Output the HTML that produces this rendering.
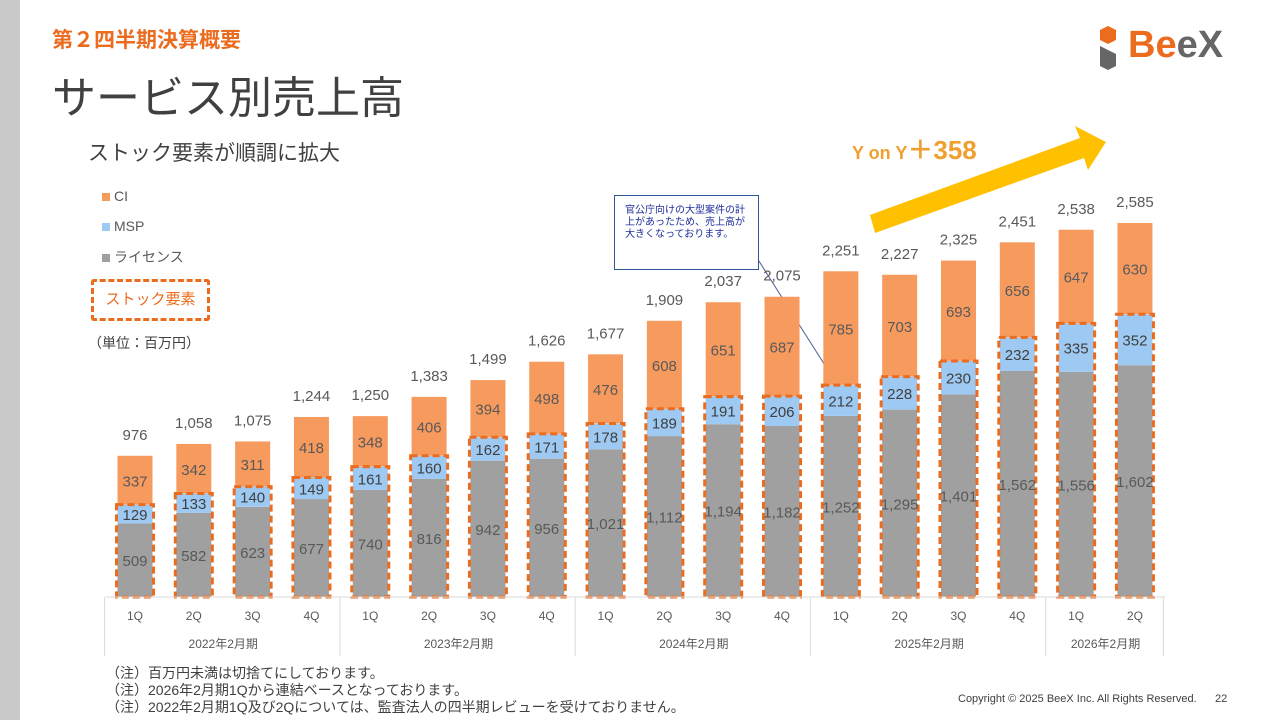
<!DOCTYPE html>
<html><head><meta charset="utf-8">
<style>
body{margin:0;width:1280px;height:720px;background:#fff;font-family:"Liberation Sans","Noto Sans CJK JP",sans-serif;position:relative;overflow:hidden}
.abs{position:absolute}
</style></head><body>
<div class="abs" style="left:0;top:0;width:20px;height:720px;background:#c9c9c9"></div>
<div class="abs" style="left:52px;top:24px;font-size:21px;font-weight:bold;color:#ec6c1f">第２四半期決算概要</div>
<div class="abs" style="left:52px;top:62px;font-size:44px;color:#404040">サービス別売上高</div>
<div class="abs" style="left:88px;top:137px;font-size:21px;color:#404040">ストック要素が順調に拡大</div>
<div class="abs" style="left:1098px;top:24px;width:140px;height:48px">
<svg width="24" height="48" viewBox="0 0 24 48" style="position:absolute;left:0;top:0"><polygon points="2,6 10,2 18,6 18,16 10,20 2,16" fill="#ec6c1f"/><polygon points="2,22 18,30 18,42 10,46 2,42" fill="#666"/></svg>
<span style="position:absolute;left:30px;top:0;font-size:38px;font-weight:bold;color:#ec6c1f">Be<span style="color:#666">eX</span></span></div>
<svg class="abs" style="left:0;top:0" width="1280" height="720" id="chart"></svg>
<div class="abs" style="left:102px;top:188px;font-size:14px;color:#595959"><span style="display:inline-block;width:8px;height:8px;background:#f79a5e;margin-right:4px"></span>CI</div>
<div class="abs" style="left:102px;top:218px;font-size:14px;color:#595959"><span style="display:inline-block;width:8px;height:8px;background:#9dc9f2;margin-right:4px"></span>MSP</div>
<div class="abs" style="left:102px;top:247px;font-size:14px;color:#595959"><span style="display:inline-block;width:8px;height:8px;background:#a0a0a0;margin-right:4px"></span>ライセンス</div>
<div class="abs" style="left:91px;top:279px;border:3px dashed #ec6c1f;border-radius:3px;color:#ec6c1f;font-size:15px;line-height:36px;text-align:center;box-sizing:border-box;height:42px;width:119px">ストック要素</div>
<div class="abs" style="left:88px;top:333px;font-size:14px;color:#404040">（単位：百万円）</div>
<div class="abs" style="left:614px;top:195px;width:133px;height:64px;border:1px solid #2f5597;font-size:10px;color:#1f2d9a;padding:9px 0 0 10px;line-height:12px;background:#fff;word-break:break-all"><div style="width:122px">官公庁向けの大型案件の計上があったため、売上高が大きくなっております。</div></div>
<div class="abs" style="left:852px;top:130px;color:#f0a030;font-weight:bold;font-size:18px">Y on Y<span style="font-size:26px">＋358</span></div>
<div class="abs" style="left:106px;top:665px;font-size:14px;color:#404040;line-height:17px">（注）百万円未満は切捨てにしております。<br>（注）2026年2月期1Qから連結ベースとなっております。<br>（注）2022年2月期1Q及び2Qについては、監査法人の四半期レビューを受けておりません。</div>
<div class="abs" style="left:958px;top:693px;font-size:11px;color:#404040">Copyright © 2025 BeeX Inc. All Rights Reserved.&nbsp;&nbsp;&nbsp;&nbsp;&nbsp;&nbsp;22</div>
<script>
const quarters=["1Q","2Q","3Q","4Q","1Q","2Q","3Q","4Q","1Q","2Q","3Q","4Q","1Q","2Q","3Q","4Q","1Q","2Q"];
const years=["2022年2月期","2023年2月期","2024年2月期","2025年2月期","2026年2月期"];
const license=[509,582,623,677,740,816,942,956,1021,1112,1194,1182,1252,1295,1401,1562,1556,1602];
const msp=[129,133,140,149,161,160,162,171,178,189,191,206,212,228,230,232,335,352];
const ci=[337,342,311,418,348,406,394,498,476,608,651,687,785,703,693,656,647,630];
const totals=[976,1058,1075,1244,1250,1383,1499,1626,1677,1909,2037,2075,2251,2227,2325,2451,2538,2585];
const NS="http://www.w3.org/2000/svg",svg=document.getElementById('chart');
const base=597,k=0.1447,x0=135,dx=58.82,bw=35;
const y=v=>base-v*k, xc=i=>x0+i*dx;
function el(t,a){const e=document.createElementNS(NS,t);for(const n in a)e.setAttribute(n,a[n]);svg.appendChild(e);return e;}
function txt(s,x,yy,size,fill){const e=el('text',{x:x,y:yy,'font-size':size,fill:fill,'text-anchor':'middle','font-family':'"Liberation Sans","Noto Sans CJK JP",sans-serif'});e.textContent=s;return e;}
const ar=el('polygon',{points:"870,215 1080,138 1075,126 1106,142 1088,170 1084,158 875,233",fill:"#ffc000"});

const cl=el('line',{x1:757,y1:258,x2:833,y2:378,stroke:'#4a6090','stroke-width':1});

for(let i=0;i<quarters.length;i++){
 const cx=xc(i);
 const b1=el('rect',{x:cx-bw/2,y:y(license[i]),width:bw,height:license[i]*k,fill:'#a0a0a0'});
 
 const b2=el('rect',{x:cx-bw/2,y:y(license[i]+msp[i]),width:bw,height:msp[i]*k,fill:'#9dc9f2'});
 
 const b3=el('rect',{x:cx-bw/2,y:y(totals[i]),width:bw,height:ci[i]*k,fill:'#f79a5e'});
 
 const st=license[i]+msp[i];
 const d=el('rect',{x:cx-bw/2-1,y:y(st),width:bw+2,height:st*k,fill:'none',stroke:'#ec6c1f','stroke-width':3,'stroke-dasharray':'7,4'});
 
 txt(license[i].toLocaleString('en-US'),cx,y(license[i]/2)+6,15,'#595959');
 txt(String(msp[i]),cx,y(license[i]+msp[i]/2)+6,15,'#404040');
 txt(String(ci[i]),cx,y(st+ci[i]/2)+6,15,'#595959');
 txt(totals[i].toLocaleString('en-US'),cx,y(totals[i])-16,15,'#595959');
 txt(quarters[i],cx,620,12,'#595959');
}
el('line',{x1:106,y1:base,x2:1165,y2:base,stroke:'#d9d9d9'});
const seps=[0,4,8,12,16,18];
seps.forEach(s=>{const xx=x0-dx/2+s*dx-1;el('line',{x1:xx,y1:base,x2:xx,y2:656,stroke:'#d9d9d9'});});
for(let g=0;g<years.length;g++){const a=seps[g],b=seps[g+1];txt(years[g],x0-dx/2+(a+b)/2*dx,648,12,'#595959');}
</script>
</body></html>
